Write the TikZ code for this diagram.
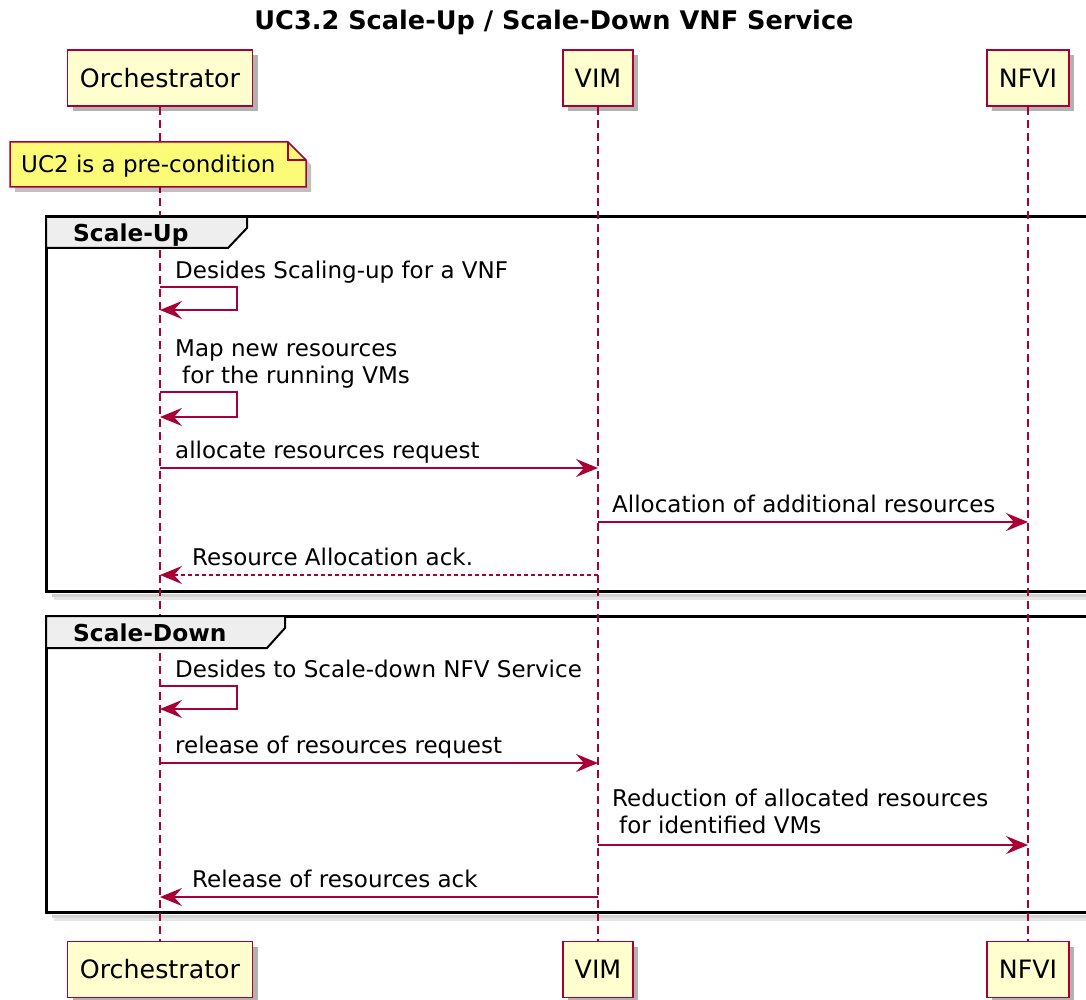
\documentclass[tikz,border=0pt]{standalone}
\usepackage{fontspec}
\setmainfont{DejaVu Sans}
\usetikzlibrary{arrows.meta,shadows}
\definecolor{pborder}{HTML}{A80036}
\definecolor{pfill}{HTML}{FEFECE}
\definecolor{nfill}{HTML}{FBFB77}
\definecolor{gfill}{HTML}{EEEEEE}
\pgfdeclarelayer{bg}
\pgfdeclarelayer{notebg}
\pgfsetlayers{bg,main,notebg}
\begin{document}
\begin{tikzpicture}[x=1pt,y=-1pt,
  part/.style={draw=pborder, line width=1.8pt, fill=pfill, minimum height=56pt, inner sep=0pt,
    font=\fontsize{25.3}{29}\selectfont, text=black,
    drop shadow={shadow xshift=5pt, shadow yshift=-5pt, opacity=0.3, fill=black}},
  lifeline/.style={draw=pborder, line width=1.5pt, dash pattern=on 8pt off 5pt},
  msg/.style={draw=pborder, line width=1.8pt, -{Stealth[length=22pt,width=18pt,inset=8pt]}},
  reply/.style={msg, dash pattern=on 4pt off 3pt},
  msgtext/.style={anchor=base west, inner sep=0pt, font=\fontsize{23}{27}\selectfont, text=black, align=left},
  framebox/.style={draw=black, line width=3pt},
  frameshadow/.style={draw=black, opacity=0.18, line width=3pt},
  tab/.style={draw=black, line width=2pt, fill=gfill},
  tabtext/.style={anchor=base west, inner sep=0pt, font=\fontsize{23.3}{27}\selectfont\bfseries, text=black},
  title/.style={font=\fontsize{25.6}{29}\selectfont\bfseries, text=black, inner sep=0pt}
]
\useasboundingbox (0,0) rectangle (1086,1000);
\begin{pgfonlayer}{bg}
  \fill[white] (0,0) rectangle (1086,1000);
\end{pgfonlayer}

% title
\node[title] (title) at (554,22) {UC3.2 Scale-Up / Scale-Down VNF Service};

% participants
\node[part, minimum width=185pt] (oT) at (160,78) {Orchestrator};
\node[part, minimum width=70pt] (vT) at (598,78) {VIM};
\node[part, minimum width=82pt] (nT) at (1028,78) {NFVI};
\node[part, minimum width=185pt] (oB) at (160,969.5) {Orchestrator};
\node[part, minimum width=70pt] (vB) at (598,969.5) {VIM};
\node[part, minimum width=82pt] (nB) at (1028,969.5) {NFVI};

% group frames (background)
\begin{pgfonlayer}{bg}
  \draw[frameshadow] (52,595) -- (1092,595);
  \draw[frameshadow, opacity=0.1] (54,598) -- (1092,598);
  \draw[framebox] (46,217) rectangle (1094,591);
  \draw[frameshadow] (52,916) -- (1092,916);
  \draw[frameshadow, opacity=0.1] (54,919) -- (1092,919);
  \draw[framebox] (46,616) rectangle (1094,912);
\end{pgfonlayer}

% lifelines
\draw[lifeline] (oT) -- (oB);
\draw[lifeline] (vT) -- (vB);
\draw[lifeline] (nT) -- (nB);

% group tabs
\draw[tab] (46,217) -- (247,217) -- (247,228) -- (228,248) -- (46,248) -- cycle;
\node[tabtext] (g1) at (73,242) {Scale-Up};
\draw[tab] (46,616) -- (285,616) -- (285,628) -- (267,648) -- (46,648) -- cycle;
\node[tabtext] (g2) at (73,641) {Scale-Down};

% note (shape on layer above main, text on top of it)
\begin{pgfonlayer}{notebg}
\coordinate (nNW) at (10,142); \coordinate (nSE) at (306,187);
\fill[black, opacity=0.25] (15,147) -- (293,147) -- (311,165) -- (311,192) -- (15,192) -- cycle;
\draw[draw=pborder, line width=1.5pt, fill=nfill] (nNW) -- (288,142) -- (306,160) -- (nSE) -- (10,187) -- cycle;
\draw[draw=pborder, line width=1.5pt] (288,142) -- (288,160) -- (306,160);
\node[anchor=base west, inner sep=0pt, font=\fontsize{23}{27}\selectfont, text=black]
      (note) at (21,173) {UC2 is a pre-condition};
\end{pgfonlayer}

% messages
\coordinate (s1a) at (160,287); \coordinate (s1b) at (160,310);
\node[msgtext] (t1) at (175,278) {Desides Scaling-up for a VNF};
\draw[msg] (s1a) -- ++(77,0) -- ++(0,23) -- (s1b);

\coordinate (s2a) at (160,392); \coordinate (s2b) at (160,417);
\node[msgtext] (t2) at (175,383) {Map new resources\\\hspace*{7pt}for the running VMs};
\draw[msg] (s2a) -- ++(77,0) -- ++(0,25) -- (s2b);

\coordinate (m3a) at (160,468); \coordinate (m3b) at (598,468);
\node[msgtext] (t3) at (175,458) {allocate resources request};
\draw[msg] (m3a) -- (m3b);

\coordinate (m4a) at (598,522); \coordinate (m4b) at (1028,522);
\node[msgtext] (t4) at (612,512) {Allocation of additional resources};
\draw[msg] (m4a) -- (m4b);

\coordinate (m5a) at (598,575); \coordinate (m5b) at (160,575);
\node[msgtext] (t5) at (192,565) {Resource Allocation ack.};
\draw[reply] (m5a) -- (m5b);

\coordinate (s3a) at (160,686); \coordinate (s3b) at (160,709);
\node[msgtext] (t6) at (175,677) {Desides to Scale-down NFV Service};
\draw[msg] (s3a) -- ++(77,0) -- ++(0,23) -- (s3b);

\coordinate (m7a) at (160,763); \coordinate (m7b) at (598,763);
\node[msgtext] (t7) at (175,753) {release of resources request};
\draw[msg] (m7a) -- (m7b);

\coordinate (m8a) at (598,845); \coordinate (m8b) at (1028,845);
\node[msgtext] (t8) at (612,833) {Reduction of allocated resources\\\hspace*{7pt}for identified VMs};
\draw[msg] (m8a) -- (m8b);

\coordinate (m9a) at (598,897); \coordinate (m9b) at (160,897);
\node[msgtext] (t9) at (192,887) {Release of resources ack};
\draw[msg] (m9a) -- (m9b);
\end{tikzpicture}
\end{document}
